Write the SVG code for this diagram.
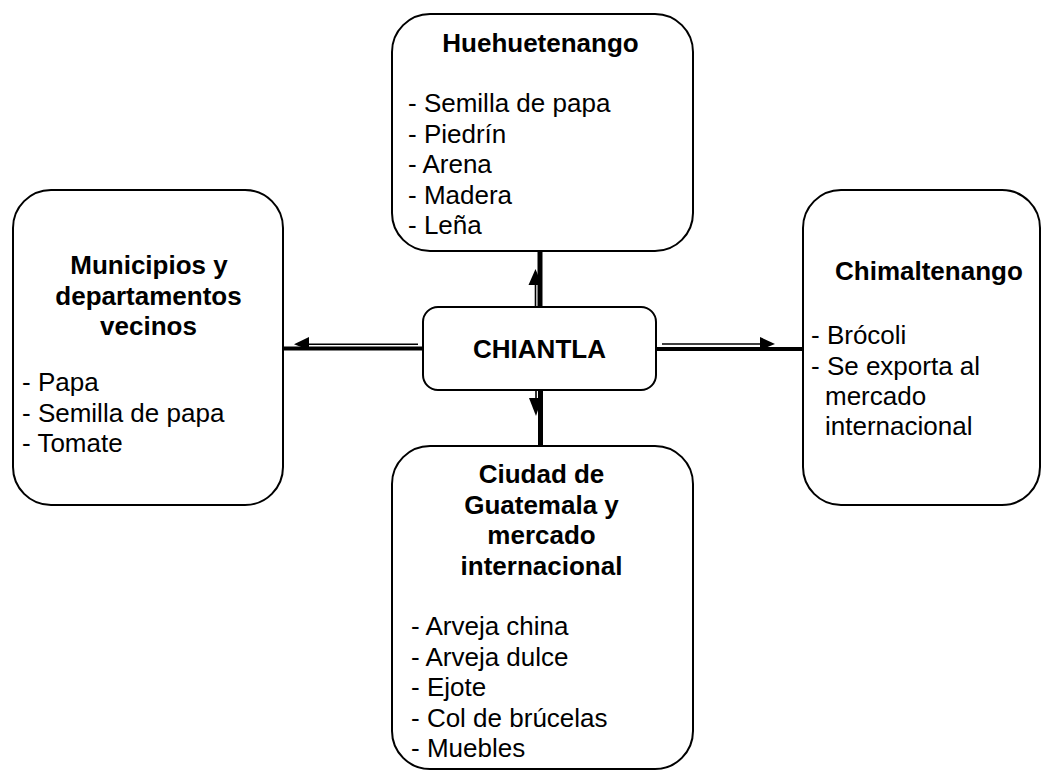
<svg xmlns="http://www.w3.org/2000/svg" width="1042" height="770" viewBox="0 0 1042 770">
<style>
.box{fill:#fff;stroke:#000;stroke-width:2}
.t{font-family:"Liberation Sans",Arial,sans-serif;font-size:26px;fill:#000}
.b{font-weight:bold}
.c{text-anchor:middle}
.thick{stroke:#000;stroke-width:5;fill:none}
.thin{stroke:#000;stroke-width:1.6;fill:none}
.head{fill:#000;stroke:none}
</style>
<rect width="1042" height="770" fill="#fff"/>
<g id="connectors">
  <line class="thick" x1="540" y1="251" x2="540" y2="307"/>
  <line class="thin" x1="535.5" y1="307" x2="535.5" y2="283"/>
  <polygon class="head" points="535.5,269 528.5,285 542,285"/>
  <line class="thick" x1="540.5" y1="390" x2="540.5" y2="446"/>
  <line class="thin" x1="536" y1="385" x2="536" y2="400"/>
  <polygon class="head" points="529,398 542,398 536,416"/>
  <line class="thick" x1="283" y1="348.5" x2="423" y2="348.5" style="stroke-width:4"/>
  <line class="thin" x1="418" y1="344.3" x2="306" y2="344.3"/>
  <polygon class="head" points="294,344.3 309,337 309,350"/>
  <line class="thick" x1="656" y1="349" x2="803" y2="349" style="stroke-width:4"/>
  <line class="thin" x1="662" y1="344" x2="762" y2="344"/>
  <polygon class="head" points="775,344 760,337 760,350"/>
</g>
<g id="huehuetenango">
  <rect class="box" x="392" y="14" width="301" height="237" rx="38" ry="38"/>
  <text class="t b c" x="540.5" y="52">Huehuetenango</text>
  <text class="t" x="408" y="112">- Semilla de papa</text>
  <text class="t" x="408" y="142.5">- Piedrín</text>
  <text class="t" x="408" y="173">- Arena</text>
  <text class="t" x="408" y="203.5">- Madera</text>
  <text class="t" x="408" y="234">- Leña</text>
</g>
<g id="municipios">
  <rect class="box" x="13" y="190" width="270" height="315" rx="38" ry="38"/>
  <text class="t b c" x="149" y="274">Municipios y</text>
  <text class="t b c" x="148.5" y="305">departamentos</text>
  <text class="t b c" x="148.5" y="335">vecinos</text>
  <text class="t" x="22" y="391">- Papa</text>
  <text class="t" x="22" y="421.5">- Semilla de papa</text>
  <text class="t" x="22" y="452">- Tomate</text>
</g>
<g id="chimaltenango">
  <rect class="box" x="803" y="190" width="237" height="315" rx="38" ry="38"/>
  <text class="t b" x="835" y="280">Chimaltenango</text>
  <text class="t" x="811" y="344">- Brócoli</text>
  <text class="t" x="811" y="375">- Se exporta al</text>
  <text class="t" x="825" y="405">mercado</text>
  <text class="t" x="825" y="435">internacional</text>
</g>
<g id="chiantla">
  <rect class="box" x="423" y="307" width="233" height="83" rx="15" ry="15"/>
  <text class="t b c" x="539.5" y="358">CHIANTLA</text>
</g>
<g id="guatemala">
  <rect class="box" x="392" y="446" width="301" height="323" rx="38" ry="38"/>
  <text class="t b c" x="541.5" y="483">Ciudad de</text>
  <text class="t b c" x="541.5" y="513.5">Guatemala y</text>
  <text class="t b c" x="541.5" y="544">mercado</text>
  <text class="t b c" x="541.5" y="574.5">internacional</text>
  <text class="t" x="411" y="635">- Arveja china</text>
  <text class="t" x="411" y="665.5">- Arveja dulce</text>
  <text class="t" x="411" y="696">- Ejote</text>
  <text class="t" x="411" y="726.5">- Col de brúcelas</text>
  <text class="t" x="411" y="757">- Muebles</text>
</g>
</svg>
